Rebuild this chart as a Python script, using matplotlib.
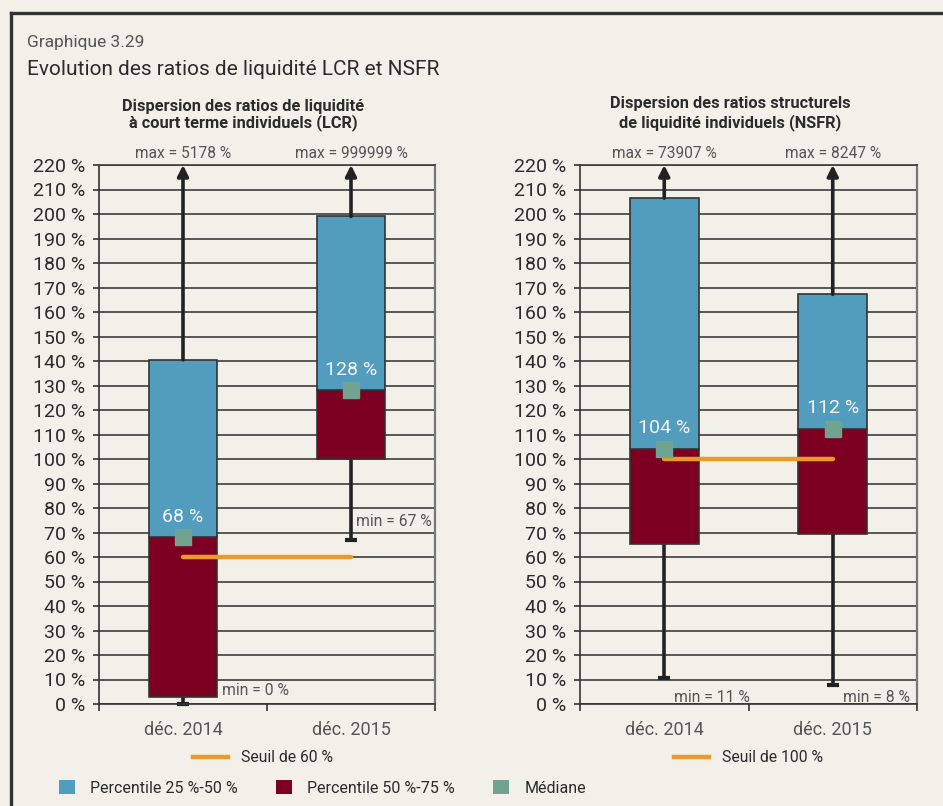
import matplotlib
matplotlib.use("Agg")
import matplotlib.pyplot as plt
from matplotlib.patches import Patch
from matplotlib.lines import Line2D

plt.rcParams['font.family'] = ['Roboto', 'DejaVu Sans']

# ---------------- data ----------------
categories = ["déc. 2014", "déc. 2015"]
y_ticks = list(range(0, 221, 10))

# LCR (left panel)
lcr_q1 = [3, 100]
lcr_median = [68, 128]
lcr_q3 = [140.5, 199]
lcr_min = [0, 67]
lcr_max_label = ["max = 5178 %", "max = 999999 %"]
lcr_min_label = ["min = 0 %", "min = 67 %"]
lcr_median_label = ["68 %", "128 %"]
lcr_threshold = 60

# NSFR (right panel)
nsfr_q1 = [65.3, 69.4]
nsfr_median = [104, 112.2]
nsfr_q3 = [206.5, 167.2]
nsfr_min = [10.5, 7.8]
nsfr_max_label = ["max = 73907 %", "max = 8247 %"]
nsfr_min_label = ["min = 11 %", "min = 8 %"]
nsfr_median_label = ["104 %", "112 %"]
nsfr_threshold = 100

# ---------------- style ----------------
BG = "#f2f0e9"
BLUE = "#529cbd"
RED = "#7d0023"
GREEN = "#70a390"
ORANGE = "#e99b25"
DARK = "#2b2b2b"
GRAY_TXT = "#555555"
W, H = 943, 806

fig = plt.figure(figsize=(W / 100, H / 100), dpi=100, facecolor=BG)

# frame (top and left)
fig.add_artist(Line2D([11 / W, 11 / W], [0, 1 - 13 / H], transform=fig.transFigure,
                      color="#333333", lw=2.4))
fig.add_artist(Line2D([11 / W, 1], [1 - 13 / H, 1 - 13 / H], transform=fig.transFigure,
                      color="#333333", lw=2.4))

fig.text(27 / W, 1 - 47 / H, "Graphique 3.29", fontsize=12.5, color="#555555",
         va="baseline", ha="left")
fig.text(27 / W, 1 - 75 / H, "Evolution des ratios de liquidité LCR et NSFR",
         fontsize=15, color="#2b2b2b", va="baseline", ha="left")

bw = 0.41


def panel(rect, q1, med, q3, mn, max_lbl, min_lbl, med_lbl, thr, title_lines,
          title_x, min_pos):
    ax = fig.add_axes(rect)
    ax.set_facecolor(BG)
    x = list(range(len(categories)))
    ax.bar(x, [m - a for m, a in zip(med, q1)], bottom=q1, width=bw,
           color=RED, edgecolor="#333333", linewidth=1.2, zorder=3)
    ax.bar(x, [b - m for b, m in zip(q3, med)], bottom=med, width=bw,
           color=BLUE, edgecolor="#333333", linewidth=1.2, zorder=3)
    # whiskers
    for xi, lo, hi, mi in zip(x, q1, q3, mn):
        ax.annotate("", xy=(xi, 220), xytext=(xi, hi),
                    arrowprops=dict(arrowstyle="-|>", color="#222222", lw=2.6,
                                    mutation_scale=16, shrinkA=0, shrinkB=0),
                    zorder=4, annotation_clip=False)
        ax.plot([xi, xi], [mi, lo], color="#222222", lw=2.6, zorder=2,
                solid_capstyle="butt")
        ax.plot([xi], [mi], marker="_", markersize=8, mew=3, color="#222222",
                zorder=2, clip_on=False)
    # threshold
    ax.plot([x[0], x[-1]], [thr, thr], color=ORANGE, lw=3.2, zorder=5,
            solid_capstyle="round")
    # medians
    ax.plot(x, med, linestyle="none", marker="s", markersize=11.5,
            color=GREEN, zorder=6)
    for xi, m, lbl in zip(x, med, med_lbl):
        ax.annotate(lbl, (xi, m), xytext=(0, 15), textcoords="offset points",
                    ha="center", va="center", fontsize=14, color="#f4f4f4",
                    zorder=7)
    for xi, lbl in zip(x, max_lbl):
        ax.annotate(lbl, (xi, 220), xytext=(0, 8), textcoords="offset points",
                    ha="center", va="center", fontsize=11.2, color=GRAY_TXT,
                    annotation_clip=False)
    for (px, py), lbl in zip(min_pos, min_lbl):
        ax.text(px, py, lbl, ha="left", va="center", fontsize=11.3,
                color=GRAY_TXT, zorder=5)

    ax.set_xlim(-0.5, 1.5)
    ax.set_ylim(0, 220)
    ax.set_yticks(y_ticks)
    ax.set_yticklabels([f"{v} %" for v in y_ticks])
    ax.tick_params(axis="y", length=4, width=1.2, color="#333333",
                   labelsize=14, labelcolor="#2b2b2b", pad=6)
    ax.set_xticks(x)
    ax.set_xticklabels(categories)
    ax.set_xticks([-0.5, 0.5, 1.5], minor=True)
    ax.tick_params(axis="x", which="major", length=0, labelsize=13,
                   labelcolor=GRAY_TXT, pad=12)
    ax.tick_params(axis="x", which="minor", length=5, width=1.2,
                   color="#333333")
    ax.yaxis.grid(True, color="#3c3c3c", lw=1.2, zorder=0)
    ax.set_axisbelow(True)
    for s in ("left", "bottom"):
        ax.spines[s].set_color("#333333")
        ax.spines[s].set_linewidth(1.2)
    ax.spines["top"].set_color("#3c3c3c")
    ax.spines["top"].set_linewidth(1.2)
    ax.spines["right"].set_color("#777777")
    ax.spines["right"].set_linewidth(1.6)

    for (ty, t) in title_lines:
        fig.text(title_x / W, 1 - ty / H, t, ha="center", va="baseline",
                 fontsize=11.8, fontweight="bold", color="#2b2b2b")

    leg = ax.legend(handles=[Line2D([], [], color=ORANGE, lw=3.2)],
                    labels=[f"Seuil de {thr} %"], loc="center left",
                    frameon=False, fontsize=11.3, handlelength=2.2,
                    handletextpad=0.85, borderaxespad=0, borderpad=0,
                    bbox_transform=fig.transFigure,
                    bbox_to_anchor=((rect[0] * W + 94) / W, 1 - 758 / H))
    for t in leg.get_texts():
        t.set_color("#2b2b2b")
    return ax


ax1 = panel([99 / W, 1 - 704 / H, 336 / W, 539 / H],
            lcr_q1, lcr_median, lcr_q3, lcr_min, lcr_max_label, lcr_min_label,
            lcr_median_label, lcr_threshold,
            [(111, "Dispersion des ratios de liquidité"),
             (127, "à court terme individuels (LCR)")], 243,
            [(0.23, 5.7), (1.03, 74.5)])

ax2 = panel([580 / W, 1 - 704 / H, 337 / W, 539 / H],
            nsfr_q1, nsfr_median, nsfr_q3, nsfr_min, nsfr_max_label,
            nsfr_min_label, nsfr_median_label, nsfr_threshold,
            [(108, "Dispersion des ratios structurels"),
             (127, "de liquidité individuels (NSFR)")], 730,
            [(0.06, 2.7), (1.06, 2.7)])

handles = [Patch(facecolor=BLUE, edgecolor="none"),
           Patch(facecolor=RED, edgecolor="none"),
           Patch(facecolor=GREEN, edgecolor="none")]
leg = fig.legend(handles=handles,
                 labels=["Percentile 25 %-50 %", "Percentile 50 %-75 %", "Médiane"],
                 loc="center left", bbox_to_anchor=(59 / W, 1 - 788 / H),
                 ncol=3, frameon=False, fontsize=11.5, handlelength=1.0,
                 handleheight=1.0, handletextpad=0.95, columnspacing=2.4,
                 borderaxespad=0, borderpad=0)
for t in leg.get_texts():
    t.set_color("#2b2b2b")

fig.savefig("out.png", dpi=100, facecolor=BG)
